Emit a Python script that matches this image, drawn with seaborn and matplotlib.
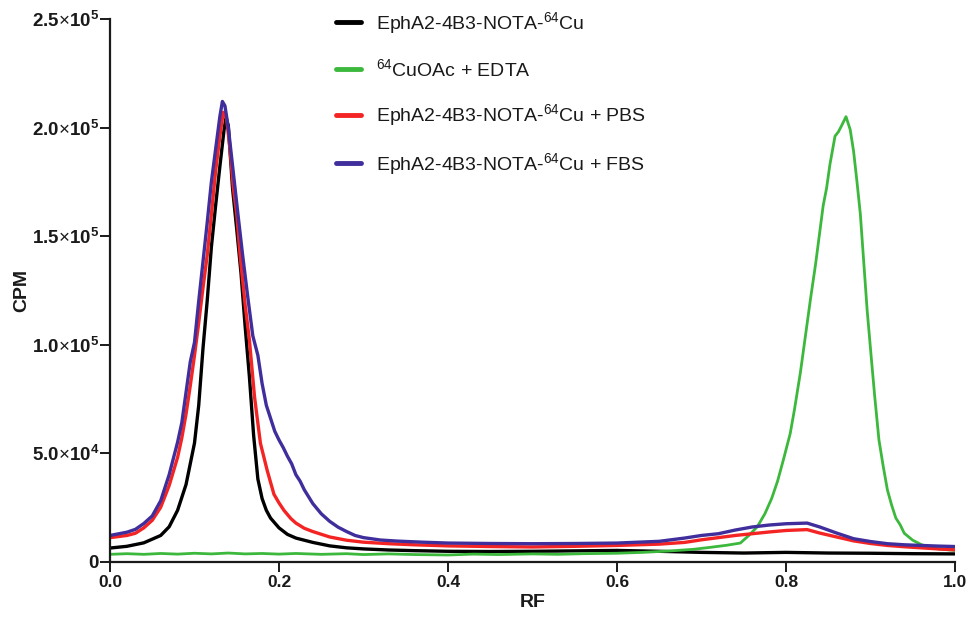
import matplotlib
matplotlib.use("Agg")
import matplotlib.pyplot as plt
import seaborn as sns
import pandas as pd
from matplotlib.lines import Line2D

# ---------------- data ----------------
series_names = [
    "EphA2-4B3-NOTA-$^{64}$Cu",
    "$^{64}$CuOAc + EDTA",
    "EphA2-4B3-NOTA-$^{64}$Cu + PBS",
    "EphA2-4B3-NOTA-$^{64}$Cu + FBS",
]
series_colors = ["#000000", "#3cb83c", "#f42424", "#3f2e9c"]

black_rf = [0.0, 0.02, 0.04, 0.06, 0.07, 0.08, 0.09, 0.10, 0.105, 0.11, 0.115, 0.12,
            0.125, 0.13, 0.135, 0.137, 0.14, 0.145, 0.15, 0.155, 0.16, 0.165, 0.17,
            0.175, 0.18, 0.185, 0.19, 0.20, 0.21, 0.22, 0.24, 0.26, 0.28, 0.30, 0.33,
            0.36, 0.40, 0.45, 0.50, 0.55, 0.60, 0.65, 0.70, 0.75, 0.80, 0.85, 0.90,
            0.95, 1.00]
black_cpm = [6200, 7000, 8600, 12000, 16000, 23600, 35500, 54600, 72000, 98000, 120000,
             145000, 164000, 182000, 199000, 204000, 201000, 172000, 153000, 133000,
             108000, 85000, 58000, 38000, 29000, 23600, 20000, 15500, 12500, 10800,
             8800, 7200, 6300, 5800, 5300, 5000, 4700, 4600, 4700, 4900, 5100, 4700,
             4200, 3900, 4200, 3900, 3800, 3600, 3500]

green_rf = [0.0, 0.02, 0.04, 0.06, 0.08, 0.10, 0.12, 0.14, 0.16, 0.18, 0.20, 0.22,
            0.25, 0.28, 0.30, 0.33, 0.36, 0.40, 0.43, 0.46, 0.50, 0.53, 0.56, 0.60,
            0.63, 0.66, 0.69, 0.71, 0.73, 0.746, 0.756, 0.766, 0.775, 0.783, 0.79,
            0.797, 0.805, 0.81, 0.817, 0.823, 0.829, 0.835, 0.84, 0.844, 0.848,
            0.852, 0.858, 0.862, 0.866, 0.871, 0.876, 0.88, 0.884, 0.888, 0.892,
            0.896, 0.90, 0.905, 0.91, 0.915, 0.92, 0.925, 0.93, 0.935, 0.94, 0.95,
            0.96, 0.97, 0.98, 1.00]
green_cpm = [3300, 3600, 3300, 3700, 3400, 3800, 3500, 3900, 3500, 3700, 3400, 3700,
             3300, 3600, 3200, 3500, 3200, 3000, 3400, 3200, 3500, 3300, 3600, 3800,
             4200, 4800, 5600, 6500, 7500, 8500, 12000, 16000, 22000, 29000, 37000,
             47000, 59000, 70000, 87000, 104000, 121000, 137000, 152000, 164000,
             172000, 183000, 196000, 198000, 201000, 205000, 199000, 189000, 175000,
             160000, 138000, 116000, 98000, 76000, 56000, 44000, 33000, 26000,
             20000, 17000, 13000, 9800, 7800, 6600, 5800, 5100]

red_rf = [0.0, 0.02, 0.03, 0.04, 0.05, 0.06, 0.07, 0.08, 0.085, 0.09, 0.095, 0.10,
          0.105, 0.11, 0.115, 0.12, 0.125, 0.13, 0.134, 0.138, 0.142, 0.146, 0.15,
          0.154, 0.16, 0.165, 0.171, 0.178, 0.186, 0.194, 0.20, 0.206, 0.214, 0.22,
          0.23, 0.24, 0.26, 0.28, 0.30, 0.33, 0.36, 0.40, 0.45, 0.50, 0.55, 0.60,
          0.65, 0.68, 0.70, 0.72, 0.74, 0.76, 0.78, 0.80, 0.825, 0.84, 0.86, 0.88,
          0.90, 0.92, 0.94, 0.96, 0.98, 1.00]
red_cpm = [11000, 12000, 13000, 15500, 19000, 25000, 35000, 48000, 57000, 68000,
           81000, 95000, 110000, 126000, 141000, 160000, 180000, 196000, 207000,
           204000, 190000, 172000, 160000, 141000, 118000, 102000, 76000, 54500,
           42000, 31000, 27000, 23500, 19800, 17700, 15300, 13800, 11300, 9800,
           8900, 8200, 7700, 7200, 6900, 6700, 7000, 7400, 8000, 8800, 10000,
           11000, 12000, 12800, 13600, 14300, 14700, 13100, 11300, 9500, 8300,
           7400, 6800, 6300, 5800, 5400]

purple_rf = [0.0, 0.02, 0.03, 0.04, 0.05, 0.06, 0.07, 0.08, 0.085, 0.09, 0.095, 0.10,
             0.105, 0.11, 0.115, 0.12, 0.125, 0.13, 0.133, 0.136, 0.14, 0.144,
             0.148, 0.152, 0.157, 0.163, 0.169, 0.175, 0.18, 0.185, 0.19, 0.195,
             0.20, 0.205, 0.21, 0.215, 0.22, 0.225, 0.23, 0.24, 0.25, 0.26, 0.27,
             0.28, 0.29, 0.30, 0.32, 0.34, 0.37, 0.40, 0.45, 0.50, 0.55, 0.60,
             0.65, 0.68, 0.70, 0.72, 0.74, 0.76, 0.78, 0.80, 0.825, 0.84, 0.86,
             0.88, 0.90, 0.92, 0.94, 0.96, 0.98, 1.00]
purple_cpm = [12000, 13500, 14800, 17500, 21000, 28000, 40000, 55000, 64000, 78000,
              92000, 101000, 120000, 138000, 156000, 175000, 190000, 205000,
              212000, 210000, 200000, 186000, 172000, 158000, 141000, 122000,
              104000, 95000, 82000, 72000, 66000, 60000, 56000, 52500, 48500,
              45000, 40000, 37000, 33000, 26700, 22000, 18500, 15800, 13800,
              12000, 11000, 9900, 9400, 8900, 8500, 8300, 8200, 8300, 8500, 9300,
              10800, 12000, 12800, 14500, 15900, 16800, 17400, 17700, 15900,
              13100, 10500, 9200, 8200, 7700, 7400, 7100, 6900]

y_ticks = [0, 50000, 100000, 150000, 200000, 250000]
y_tick_labels = ["0",
                 r"$\mathbf{5.0}{\times}\mathbf{10^{4}}$",
                 r"$\mathbf{1.0}{\times}\mathbf{10^{5}}$",
                 r"$\mathbf{1.5}{\times}\mathbf{10^{5}}$",
                 r"$\mathbf{2.0}{\times}\mathbf{10^{5}}$",
                 r"$\mathbf{2.5}{\times}\mathbf{10^{5}}$"]
x_ticks = [0.0, 0.2, 0.4, 0.6, 0.8, 1.0]
x_tick_labels = ["0.0", "0.2", "0.4", "0.6", "0.8", "1.0"]

# ---------------- build long table ----------------
frames = []
for name, rf, cpm in zip(series_names,
                         [black_rf, green_rf, red_rf, purple_rf],
                         [black_cpm, green_cpm, red_cpm, purple_cpm]):
    frames.append(pd.DataFrame({"RF": rf, "CPM": cpm, "series": name}))
df = pd.concat(frames, ignore_index=True)

# ---------------- style ----------------
sns.set_style("ticks")
plt.rcParams["font.family"] = ["Liberation Sans", "DejaVu Sans"]
plt.rcParams["mathtext.fontset"] = "custom"
plt.rcParams["mathtext.rm"] = "Liberation Sans"
plt.rcParams["mathtext.it"] = "Liberation Sans:italic"
plt.rcParams["mathtext.bf"] = "Liberation Sans:bold"

fig = plt.figure(figsize=(9.73, 6.19), dpi=100)
ax = fig.add_axes([110 / 973, 1 - 561.5 / 619, (955 - 110) / 973, (561.5 - 19) / 619])

palette = dict(zip(series_names, series_colors))
sns.lineplot(data=df, x="RF", y="CPM", hue="series", hue_order=series_names,
             palette=palette, estimator=None, sort=False, linewidth=2.4, ax=ax,
             legend=False)
for line, name in zip(ax.get_lines(), series_names):
    if name.startswith("$^{64}$CuOAc"):
        line.set_linewidth(2.0)

ax.set_xlim(0, 1.0)
ax.set_ylim(0, 250000)
ax.set_xticks(x_ticks)
ax.set_xticklabels(x_tick_labels)
ax.set_yticks(y_ticks)
ax.set_yticklabels(y_tick_labels)

for lab in ax.get_xticklabels():
    lab.set_fontweight("bold")
    lab.set_fontsize(12.5)
    lab.set_color("#1a1a1a")
for lab in ax.get_yticklabels():
    lab.set_fontweight("bold")
    lab.set_fontsize(13.5)
    lab.set_color("#1a1a1a")

ax.tick_params(axis="both", direction="out", length=7, width=1.4, color="#1a1a1a", pad=3)
ax.tick_params(axis="y", pad=1)
sns.despine(ax=ax)
for sp in ["left", "bottom"]:
    ax.spines[sp].set_linewidth(1.6)
    ax.spines[sp].set_color("#1a1a1a")

ax.set_xlabel("RF", fontsize=14, fontweight="bold", color="#1a1a1a")
ax.set_ylabel("CPM", fontsize=14, fontweight="bold", color="#1a1a1a")
ax.xaxis.set_label_coords(0.5, -0.06)
ax.yaxis.set_label_coords(-0.094, 0.5)

# legend
handles = [Line2D([0], [0], color=c, lw=3.5) for c in series_colors]
leg = fig.legend(handles, series_names, loc="upper left",
                 bbox_to_anchor=(336 / 973, 1 - 10 / 619), frameon=False,
                 fontsize=14, handlelength=1.3, handletextpad=0.75,
                 labelspacing=1.15, borderpad=0, borderaxespad=0)
for t in leg.get_texts():
    t.set_color("#1a1a1a")

fig.savefig("out.png", dpi=100)
